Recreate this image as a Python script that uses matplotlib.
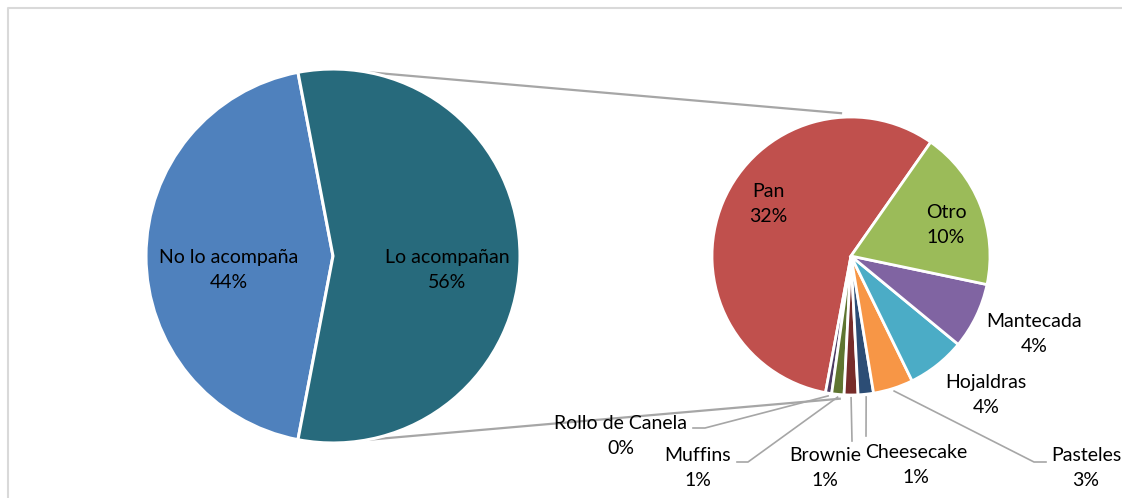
import matplotlib
matplotlib.use("Agg")
import matplotlib.pyplot as plt
import numpy as np

# ---------------- data ----------------
main_labels = ["No lo acompaña", "Lo acompañan"]
main_values = [44.0, 56.0]
main_colors = ["#4F81BD", "#276A7C"]

sub_labels = ["Pan", "Rollo de Canela", "Muffins", "Brownie", "Cheesecake",
              "Pasteles", "Hojaldras", "Mantecada", "Otro"]
sub_values = [31.8, 0.4, 0.8, 0.9, 1.0, 2.6, 3.8, 4.3, 10.4]
sub_colors = ["#C0504D", "#4D3B62", "#5F7530", "#772C2A", "#2C4D75",
              "#F79646", "#4BACC6", "#8064A2", "#9BBB59"]

# ---------------- layout (pixel space, y measured from top) ----------------
W, H = 1122, 498
plt.rcParams['font.family'] = ['Lato', 'DejaVu Sans']
FS = 14
LS = 1.6
LINE_C = "#A6A6A6"

fig = plt.figure(figsize=(W / 100, H / 100), dpi=100)
ax = fig.add_axes([0, 0, 1, 1])

c1 = (333, 256); r1 = 187
c2 = (851, 256); r2 = 139

# y axis is inverted (pixel-like); counterclock=False keeps the visual orientation
start1 = 100.8
ax.pie(main_values, colors=main_colors, center=c1, radius=r1,
       startangle=-start1, counterclock=False,
       wedgeprops=dict(edgecolor='white', linewidth=2.2), frame=True)

start2 = 55.0
ax.pie(sub_values, colors=sub_colors, center=c2, radius=r2,
       startangle=-start2, counterclock=False,
       wedgeprops=dict(edgecolor='white', linewidth=2.0), frame=True)

ax.set_xlim(0, W)
ax.set_ylim(H, 0)
ax.set_aspect('equal')
ax.axis('off')

# frame
ax.plot([8, 8, W + 5], [H + 5, 8, 8], color="#D9D9D9", lw=1.5, solid_capstyle='butt')

def pt(c, r, ang):
    a = np.deg2rad(ang)
    return c[0] + r * np.cos(a), c[1] - r * np.sin(a)

# connector lines between pies
for a1, a2 in [(79.5, 94.0), (-79.5, -94.5)]:
    p1 = pt(c1, r1, a1)
    p2 = pt(c2, r2 * 1.03, a2)
    ax.plot([p1[0], p2[0]], [p1[1], p2[1]], color=LINE_C, lw=1.6, zorder=0)

def pct(v):
    return f"{int(round(v))}%"

# main pie labels
main_pos = [(229, 270), (447, 270)]
for lab, v, (x, y) in zip(main_labels, main_values, main_pos):
    ax.text(x, y, f"{lab}\n{pct(v)}", ha='center', va='center', fontsize=FS,
            linespacing=LS, color='black')

# sub pie labels
sub_pos = {
    "Pan": (768, 204), "Otro": (946, 225), "Mantecada": (1034, 334),
    "Hojaldras": (986, 395), "Pasteles": (1086, 468), "Cheesecake": (916, 465),
    "Brownie": (825, 468), "Muffins": (698, 468), "Rollo de Canela": (621, 436),
}
for lab, v in zip(sub_labels, sub_values):
    x, y = sub_pos[lab]
    ax.text(x, y, f"{lab}\n{pct(v)}", ha='center', va='center', fontsize=FS,
            linespacing=LS, color='black')

# leader lines for small slices (anchor = wedge mid-angle on the rim)
leaders = {
    "Rollo de Canela": [(705, 428), (693, 428)],
    "Muffins": [(748, 462), (737, 462)],
    "Brownie": [(852, 441)],
    "Cheesecake": [(866, 436)],
    "Pasteles": [(1034, 462), (1046, 462)],
}
angles = np.cumsum([0] + sub_values[:-1])
tot = sum(sub_values)
for lab, v, a0 in zip(sub_labels, sub_values, angles):
    if lab not in leaders:
        continue
    mid = start2 + (a0 + v / 2) / tot * 360
    ax0 = pt(c2, r2 * 1.02, mid)
    pts = [ax0] + leaders[lab]
    xs, ys = zip(*pts)
    ax.plot(xs, ys, color=LINE_C, lw=1.2, zorder=0)

fig.savefig("out.png", dpi=100)
